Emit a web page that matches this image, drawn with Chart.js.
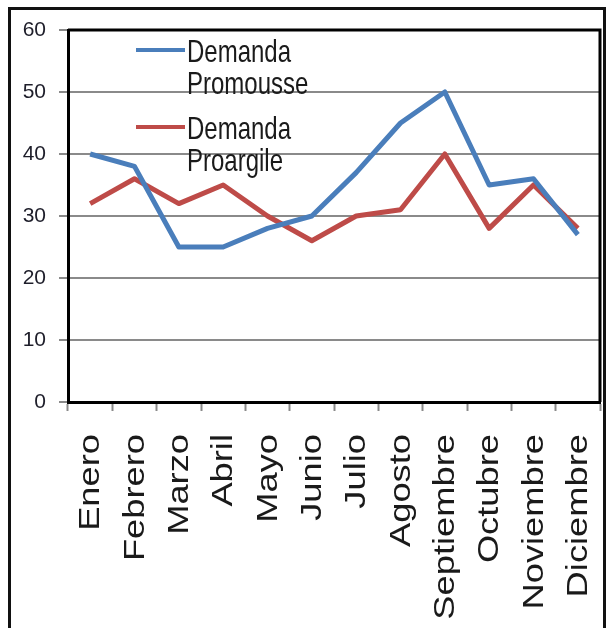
<!DOCTYPE html>
<html>
<head>
<meta charset="utf-8">
<script src="https://cdn.jsdelivr.net/npm/chart.js"></script>
<style>
  html, body { margin: 0; padding: 0; background: #fff; overflow: hidden; }
  #frame {
    position: absolute; left: 8px; top: 7px;
    width: 592px; height: 700px;
    border: 3px solid #111;
  }
  #wrap { position: absolute; left: 0; top: 0; width: 607px; height: 628px; }
</style>
</head>
<body>
<div id="frame"></div>
<div id="wrap"><canvas id="demandChart"></canvas></div>
<script>
const months = ['Enero', 'Febrero', 'Marzo', 'Abril', 'Mayo', 'Junio', 'Julio',
  'Agosto', 'Septiembre', 'Octubre', 'Noviembre', 'Diciembre'];
const promousse = [40, 38, 25, 25, 28, 30, 37, 45, 50, 35, 36, 27];
const proargile = [32, 36, 32, 35, 30, 26, 30, 31, 40, 28, 35, 28];
const seriesNames = [['Demanda', 'Promousse'], ['Demanda', 'Proargile']];
const yTicks = [0, 10, 20, 30, 40, 50, 60];

const BLUE = '#4a7ebb';
const RED = '#be4b48';
const GRID = '#8a8a8a';

// frame round the plot area (left and bottom come from the axis borders)
const plotFrame = {
  id: 'plotFrame',
  beforeDatasetsDraw(chart) {
    const { ctx, chartArea: a } = chart;
    ctx.save();
    ctx.strokeStyle = '#000';
    ctx.lineWidth = 3;
    ctx.beginPath();
    ctx.moveTo(a.left, a.top);
    ctx.lineTo(a.right, a.top);
    ctx.lineTo(a.right, a.bottom);
    ctx.stroke();
    ctx.restore();
  }
};

// month names, turned upright and drawn a little tall
const monthLabels = {
  id: 'monthLabels',
  afterDraw(chart) {
    const { ctx } = chart;
    const xs = chart.scales.x;
    ctx.save();
    ctx.fillStyle = '#1a1a1a';
    ctx.font = '30px "Liberation Sans", Arial, sans-serif';
    ctx.textAlign = 'right';
    ctx.textBaseline = 'middle';
    xs.getLabels().forEach((label, i) => {
      const x = xs.getPixelForValue(i);
      ctx.save();
      ctx.translate(x + 1, xs.top + 32);
      ctx.rotate(-Math.PI / 2);
      ctx.scale(1.21, 1);
      ctx.fillText(label, 0, 0);
      ctx.restore();
    });
    ctx.restore();
  }
};

// two-line legend inside the plot
const legendBox = {
  id: 'legendBox',
  afterDatasetsDraw(chart) {
    const { ctx } = chart;
    const colors = [BLUE, RED];
    ctx.save();
    chart.data.datasets.forEach((ds, i) => {
      const y0 = 50 + i * 77;
      ctx.strokeStyle = colors[i];
      ctx.lineWidth = 4;
      ctx.beginPath();
      ctx.moveTo(136, y0);
      ctx.lineTo(185, y0);
      ctx.stroke();
      ctx.fillStyle = '#1a1a1a';
      ctx.font = '24px "Liberation Sans", Arial, sans-serif';
      ctx.textAlign = 'left';
      ctx.textBaseline = 'alphabetic';
      seriesNames[i].forEach((line, j) => {
        ctx.save();
        ctx.translate(187, y0 + 12 + j * 31.5);
        ctx.scale(1, 1.27);
        ctx.fillText(line, 0, 0);
        ctx.restore();
      });
    });
    ctx.restore();
  }
};

new Chart(document.getElementById('demandChart'), {
  type: 'line',
  data: {
    labels: months,
    datasets: [
      { label: 'Demanda Promousse', data: promousse, borderColor: BLUE },
      { label: 'Demanda Proargile', data: proargile, borderColor: RED }
    ]
  },
  options: {
    responsive: true,
    maintainAspectRatio: false,
    animation: false,
    layout: { padding: { left: 0, top: 30, right: 7, bottom: 0 } },
    elements: {
      line: { borderWidth: 5, tension: 0, borderJoinStyle: 'round', borderCapStyle: 'butt' },
      point: { radius: 0, hoverRadius: 0 }
    },
    plugins: { legend: { display: false }, tooltip: { enabled: false } },
    scales: {
      x: {
        offset: true,
        grid: {
          offset: true, drawOnChartArea: false, drawTicks: true,
          tickLength: 9, tickColor: GRID, tickWidth: 2
        },
        border: { color: '#000', width: 3 },
        ticks: { display: false },
        afterFit(scale) { scale.height = 226; }
      },
      y: {
        min: 0, max: 60,
        afterBuildTicks(scale) { scale.ticks = yTicks.map(v => ({ value: v })); },
        grid: { color: GRID, lineWidth: 2, tickLength: 9, tickColor: GRID, tickWidth: 2 },
        border: { color: '#000', width: 3 },
        ticks: {
          color: '#1e1e2a', padding: 13,
          font: { family: '"Liberation Sans", Arial, sans-serif', size: 21 }
        },
        afterFit(scale) { scale.width = 68; }
      }
    }
  },
  plugins: [plotFrame, legendBox, monthLabels]
});
</script>
</body>
</html>
